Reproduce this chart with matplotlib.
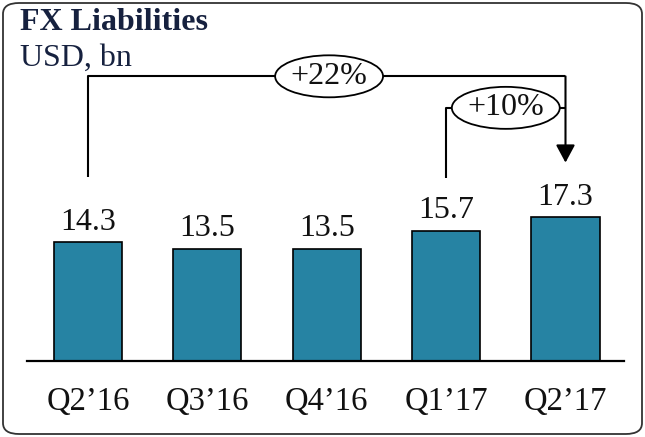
import matplotlib
matplotlib.use("Agg")
import matplotlib.pyplot as plt
from matplotlib.patches import Ellipse, FancyBboxPatch

# ---- data ----
categories = ["Q2\u201916", "Q3\u201916", "Q4\u201916", "Q1\u201917", "Q2\u201917"]
values = [14.3, 13.5, 13.5, 15.7, 17.3]
value_labels = ["14.3", "13.5", "13.5", "15.7", "17.3"]
growth_labels = ["+22%", "+10%"]
growth_pairs = [(0, 4), (3, 4)]

# ---- style ----
plt.rcParams['font.family'] = ['Liberation Serif', 'DejaVu Serif']
BAR_COLOR = "#2683A3"
TITLE_COLOR = "#16213F"
FS = 23
FS_TICK = 23.5

W, H = 645, 437
fig = plt.figure(figsize=(W / 100, H / 100), dpi=100)

# rounded border
border = FancyBboxPatch((3 / W, 3 / H), (W - 6) / W, (H - 6) / H,
                        boxstyle="round,pad=0,rounding_size=0.025",
                        transform=fig.transFigure, facecolor="none",
                        edgecolor="#333333", linewidth=1.3, zorder=-1)
fig.patches.append(border)

# axes: baseline at y=361px, from x=27 to 624 px
left, right = 27 / W, 624 / W
bottom = (H - 361) / H
top = (H - 8) / H
ax = fig.add_axes([left, bottom, right - left, top - bottom])
ax.set_facecolor("none")
px_per_unit = 8.3
ax.set_ylim(0, (361 - 8) / px_per_unit)
ax.set_xlim(-0.51, 4.49)

x = list(range(len(categories)))
bars = ax.bar(x, values, width=0.57, color=BAR_COLOR, edgecolor="black", linewidth=1.2, zorder=2)
ax.bar_label(bars, labels=value_labels, padding=4, fontsize=FS, color="#111111")

for s in ["top", "left", "right"]:
    ax.spines[s].set_visible(False)
ax.spines["bottom"].set_linewidth(1.6)
ax.spines["bottom"].set_color("black")
ax.set_yticks([])
ax.set_xticks(x)
ax.set_xticklabels(categories, fontsize=FS_TICK, color="#111111")
ax.tick_params(axis="x", length=0, pad=18.5)

# ---- growth brackets ----
LEVELS = [34.3, 30.5]
STARTS = [22.2, 22.0]
ARROW_TIP = 23.9
lw = 1.5
(a0, b0), (a1, b1) = growth_pairs
# bracket 1 (outer)
ax.plot([a0, a0, b0], [STARTS[0], LEVELS[0], LEVELS[0]], color="black", lw=lw, solid_capstyle="butt", zorder=3)
ax.annotate("", xy=(b0, ARROW_TIP), xytext=(b0, LEVELS[0]),
            arrowprops=dict(arrowstyle="-|>,head_length=1.08,head_width=0.58",
                            mutation_scale=10, lw=lw, color="black",
                            shrinkA=0, shrinkB=0), zorder=3)
# bracket 2 (inner)
ax.plot([a1, a1, b1], [STARTS[1], LEVELS[1], LEVELS[1]], color="black", lw=lw, solid_capstyle="butt", zorder=3)

ell_w = 108 / 119.5
ell_h = 42 / px_per_unit
centers = [((a0 + b0) / 2 + 0.02, LEVELS[0]), ((a1 + b1) / 2, LEVELS[1])]
for (cx, cy), lab in zip(centers, growth_labels):
    e = Ellipse((cx, cy), ell_w, ell_h, facecolor="white", edgecolor="black", lw=1.3, zorder=4)
    ax.add_patch(e)
    ax.text(cx, cy, lab, ha="center", va="center", fontsize=FS, color="#111111", zorder=5)

# ---- titles ----
fig.text(20 / W, (H - 29.5) / H, "FX Liabilities", fontsize=23, fontweight="bold",
         color=TITLE_COLOR, ha="left", va="baseline")
fig.text(20 / W, (H - 66) / H, "USD, bn", fontsize=23, color=TITLE_COLOR, ha="left", va="baseline")

fig.savefig("out.png", dpi=100)
